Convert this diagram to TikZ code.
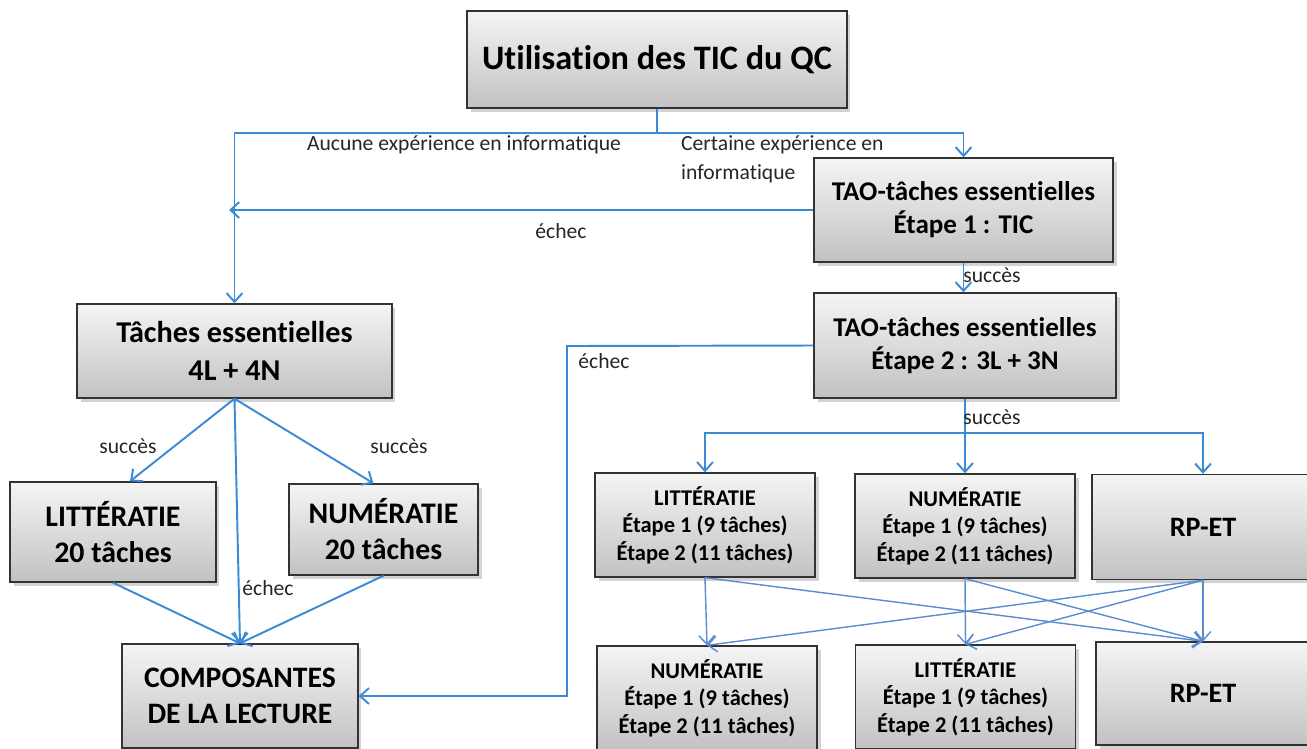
\documentclass[tikz,border=0pt]{standalone}
\usepackage{fontspec}
\setmainfont{Carlito}[Ligatures=CommonOff]
\usetikzlibrary{arrows.meta,shadows}
\definecolor{bleu}{HTML}{3A8AD6}
\definecolor{bleuclair}{HTML}{5A8CD2}
\begin{document}
\begin{tikzpicture}[x=0.02cm,y=-0.02cm,
    boite/.style={draw=black!80,line width=0.8pt,top color=gray!8,bottom color=gray!48,
        drop shadow={shadow xshift=2pt,shadow yshift=-2pt,opacity=0.35},
        font=\bfseries,align=center,inner sep=2pt},
    fleche/.style={draw=bleu,line width=1.1pt,-{Straight Barb[length=5pt,width=9pt]}},
    croise/.style={draw=bleuclair,line width=0.8pt,-{Straight Barb[length=5pt,width=9pt]}},
    etiquette/.style={font=\fontsize{12.3}{16}\selectfont,text=black!85,inner sep=1pt}]
    \useasboundingbox (0,0) rectangle (1307,748);
    % Boxes, top and right column
    \node[boite,minimum width=7.6cm,minimum height=1.94cm,font=\bfseries\fontsize{19.5}{23}\selectfont]
        (util) at (657,59.5) {Utilisation des TIC du QC};
    \node[boite,minimum width=5.98cm,minimum height=2.08cm,font=\bfseries\fontsize{15.4}{18.7}\selectfont]
        (tao1) at (963.5,210) {TAO-tâches essentielles\\Étape 1 : TIC};
    \node[boite,minimum width=6.04cm,minimum height=2.1cm,font=\bfseries\fontsize{15.4}{18.7}\selectfont]
        (tao2) at (965,345.5) {TAO-tâches essentielles\\Étape 2 : 3L + 3N};
    % Boxes, left column
    \node[boite,minimum width=6.3cm,minimum height=1.88cm,font=\bfseries\fontsize{17.2}{22}\selectfont]
        (tach) at (234.5,351) {Tâches essentielles\\4L + 4N};
    \node[boite,minimum width=4.12cm,minimum height=2cm,font=\bfseries\fontsize{17}{20.5}\selectfont]
        (litg) at (113,532) {LITTÉRATIE\\20 tâches};
    \node[boite,minimum width=3.78cm,minimum height=1.82cm,font=\bfseries\fontsize{17}{20.5}\selectfont]
        (numg) at (383.5,529.5) {NUMÉRATIE\\20 tâches};
    \node[boite,minimum width=4.72cm,minimum height=2.08cm,font=\bfseries\fontsize{16.9}{20.5}\selectfont]
        (comp) at (240,696) {COMPOSANTES\\DE LA LECTURE};
    % Boxes, stage rows
    \node[boite,minimum width=4.4cm,minimum height=2.08cm,font=\bfseries\fontsize{12.8}{15.6}\selectfont]
        (litd) at (705,525) {LITTÉRATIE\\Étape 1 (9 tâches)\\Étape 2 (11 tâches)};
    \node[boite,minimum width=4.4cm,minimum height=2.08cm,font=\bfseries\fontsize{12.8}{15.6}\selectfont]
        (numd) at (965,526) {NUMÉRATIE\\Étape 1 (9 tâches)\\Étape 2 (11 tâches)};
    \node[boite,minimum width=4.44cm,minimum height=2.1cm,font=\bfseries\fontsize{16}{20}\selectfont]
        (rpd) at (1203,527) {RP-ET};
    \node[boite,minimum width=4.4cm,minimum height=2.08cm,font=\bfseries\fontsize{12.8}{15.6}\selectfont]
        (numb) at (707,698) {NUMÉRATIE\\Étape 1 (9 tâches)\\Étape 2 (11 tâches)};
    \node[boite,minimum width=4.4cm,minimum height=2.08cm,font=\bfseries\fontsize{12.8}{15.6}\selectfont]
        (litb) at (965.5,697) {LITTÉRATIE\\Étape 1 (9 tâches)\\Étape 2 (11 tâches)};
    \node[boite,minimum width=4.28cm,minimum height=2.06cm,font=\bfseries\fontsize{16}{20}\selectfont]
        (rpb) at (1203,693.5) {RP-ET};
    % Connectors from the top
    \coordinate (haut) at (657,133);
    \draw[bleu,line width=1.1pt] (util.south) -- (haut);
    \draw[fleche] (haut) -| (tach.north);
    \draw[fleche] (haut) -| (tao1.north);
    \node[etiquette] (aucune) at (464,145) {Aucune expérience en informatique};
    \node[etiquette,anchor=north west,align=left] (certaine) at (679,134) {Certaine expérience en\\informatique};
    \coordinate (retour) at (229,210);
    \draw[fleche] (tao1.west) -- (retour);
    \node[etiquette] (echec1) at (561,231) {échec};
    \draw[fleche] (tao1.south) -- (tao1.south |- tao2.north);
    \node[etiquette] (succes1) at (992,275) {succès};
    % Failure path to the components
    \coordinate (coin) at (567,346);
    \draw[fleche] (tao2.west) -- (coin) |- (comp.east);
    \node[etiquette] (echec2) at (604,361) {échec};
    % Success path to the three stages
    \coordinate (bas) at (965,433);
    \draw[bleu,line width=1.1pt] (tao2.south) -- (bas);
    \draw[fleche] (bas) -| (litd.north);
    \draw[fleche] (bas) -- (numd.north);
    \draw[fleche] (bas) -| (rpd.north);
    \node[etiquette] (succes2) at (992,417) {succès};
    % Left tree
    \draw[fleche] (tach.south) -- ([xshift=0.34cm]litg.north);
    \draw[fleche] (tach.south) -- ([xshift=-0.2cm]numg.north);
    \draw[fleche] (tach.south) -- (comp.north);
    \draw[fleche] (litg.south) -- (comp.north);
    \draw[fleche] (numg.south) -- (comp.north);
    \node[etiquette] (succes3) at (128,446) {succès};
    \node[etiquette] (succes4) at (399,446) {succès};
    \node[etiquette] (echec3) at (268,588) {échec};
    % Crossing between the stages
    \foreach \de/\vers in {litd/numb,litd/rpb,numd/litb,numd/rpb,rpd/rpb,rpd/numb,rpd/litb}
        \draw[croise] (\de.south) -- (\vers.north);
\end{tikzpicture}
\end{document}
